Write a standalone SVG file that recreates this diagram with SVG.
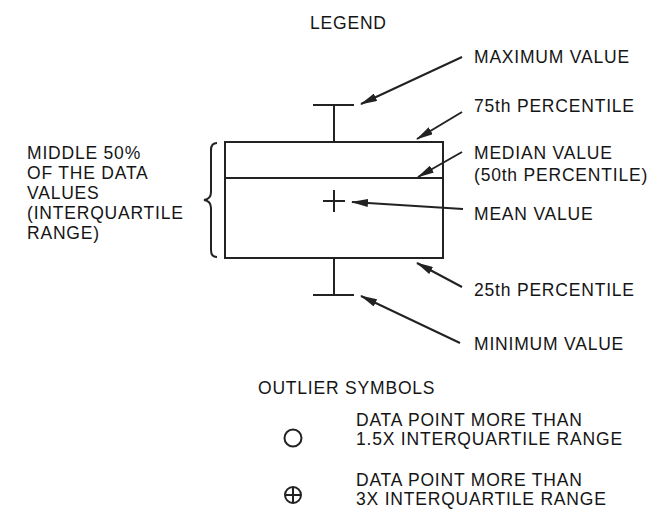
<svg xmlns="http://www.w3.org/2000/svg" width="661" height="514" viewBox="0 0 661 514">
<style>
text{font-family:"Liberation Sans",Arial,sans-serif;font-size:17.5px;letter-spacing:0.8px;fill:#151515}
.ln{stroke:#222;stroke-width:2;fill:none}
.ar{stroke:#222;stroke-width:2;fill:none;marker-end:url(#ah)}
</style>
<defs>
<marker id="ah" markerUnits="userSpaceOnUse" markerWidth="17" markerHeight="8" viewBox="0 0 17 8" refX="16" refY="4" orient="auto">
<path d="M0,0 L17,4 L0,8 z" fill="#222"/>
</marker>
</defs>
<rect width="661" height="514" fill="#fff"/>
<text x="310" y="29">LEGEND</text>
<g id="boxplot">
<line class="ln" x1="334" y1="105" x2="334" y2="142"/>
<line class="ln" x1="313" y1="105" x2="354" y2="105"/>
<rect class="ln" x="225" y="142" width="218" height="116"/>
<line class="ln" x1="225" y1="178" x2="443" y2="178"/>
<line class="ln" x1="323" y1="201" x2="345" y2="201"/>
<line class="ln" x1="334" y1="190" x2="334" y2="212"/>
<line class="ln" x1="334" y1="258" x2="334" y2="295"/>
<line class="ln" x1="313" y1="295" x2="354" y2="295"/>
</g>
<g id="brace">
<path class="ln" d="M217,143 Q211,143 211,150 L211,192 Q211,199 204,200 Q211,201 211,208 L211,250 Q211,257 217,257"/>
<text x="27" y="159">MIDDLE 50%</text>
<text x="27" y="179">OF THE DATA</text>
<text x="27" y="199">VALUES</text>
<text x="27" y="219">(INTERQUARTILE</text>
<text x="27" y="239">RANGE)</text>
</g>
<g id="labels">
<text x="474" y="63">MAXIMUM VALUE</text>
<text x="474" y="112">75th PERCENTILE</text>
<text x="474" y="159">MEDIAN VALUE</text>
<text x="474" y="181">(50th PERCENTILE)</text>
<text x="474" y="220">MEAN VALUE</text>
<text x="474" y="296">25th PERCENTILE</text>
<text x="474" y="350">MINIMUM VALUE</text>
</g>
<g id="connectors">
<line class="ar" x1="462" y1="57" x2="361" y2="104"/>
<line class="ar" x1="462" y1="112" x2="417" y2="139"/>
<line class="ar" x1="462" y1="152" x2="418" y2="177"/>
<line class="ar" x1="463" y1="209" x2="352" y2="202"/>
<line class="ar" x1="462" y1="287" x2="417" y2="263"/>
<line class="ar" x1="460" y1="343" x2="361" y2="296"/>
</g>
<g id="outliers">
<text x="258" y="394">OUTLIER SYMBOLS</text>
<circle class="ln" cx="293" cy="438" r="8.5"/>
<text x="356" y="426">DATA POINT MORE THAN</text>
<text x="356" y="445">1.5X INTERQUARTILE RANGE</text>
<circle class="ln" cx="293" cy="495" r="8"/>
<line class="ln" x1="285" y1="495" x2="301" y2="495"/>
<line class="ln" x1="293" y1="487" x2="293" y2="503"/>
<text x="356" y="486">DATA POINT MORE THAN</text>
<text x="356" y="505">3X INTERQUARTILE RANGE</text>
</g>
</svg>
